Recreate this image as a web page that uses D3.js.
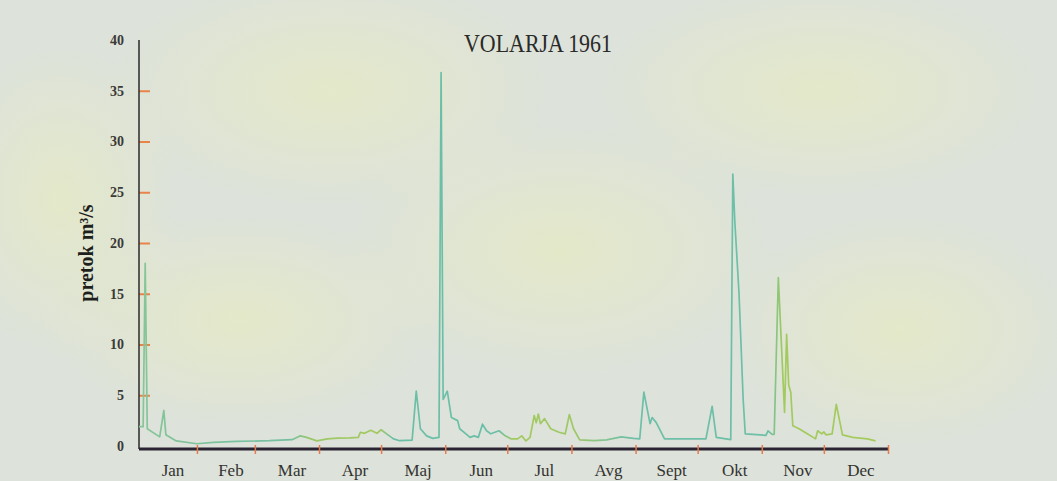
<!DOCTYPE html>
<html>
<head>
<meta charset="utf-8">
<script src="https://cdn.jsdelivr.net/npm/d3@7"></script>
<style>
  body { margin: 0; background: #dfe3dc; }
  svg { display: block; }
</style>
</head>
<body>
<div id="chart"></div>
<script>
// daily discharge, Volarja 1961 -- day of year (1 = 1 Jan) and flow in m3/s
const days = [4, 6, 7, 8, 14, 16, 17, 22, 32, 40, 51, 67, 78, 82, 85, 90, 95, 100, 106, 110, 111, 113, 116, 119, 121, 124, 127, 130, 136, 138, 140, 143, 146, 149, 150, 151, 153, 155, 158, 159, 162, 164, 166, 168, 170, 172, 174, 178, 181, 184, 187, 189, 191, 193, 195, 196, 197, 198, 200, 203, 207, 210, 212, 214, 217, 224, 230, 237, 243, 246, 248, 251, 252, 254, 258, 278, 281, 283, 290, 291, 292, 294, 296, 297, 307, 308, 310, 311, 313, 316, 317, 318, 319, 320, 323, 327, 331, 332, 334, 335, 336, 339, 341, 344, 349, 356, 360];
const flow = [1.9, 1.9, 18, 1.7, 0.9, 3.5, 1.1, 0.5, 0.22, 0.35, 0.45, 0.52, 0.62, 1.0, 0.85, 0.5, 0.7, 0.78, 0.8, 0.85, 1.35, 1.25, 1.55, 1.25, 1.6, 1.15, 0.7, 0.52, 0.58, 5.4, 1.7, 1.0, 0.75, 0.85, 36.8, 4.6, 5.4, 2.8, 2.5, 1.7, 1.2, 0.85, 1.0, 0.85, 2.15, 1.5, 1.2, 1.5, 1.0, 0.7, 0.7, 1.0, 0.5, 0.85, 3.0, 2.3, 3.15, 2.2, 2.7, 1.7, 1.35, 1.2, 3.1, 1.7, 0.6, 0.52, 0.6, 0.9, 0.75, 0.7, 5.3, 2.2, 2.8, 2.3, 0.7, 0.7, 3.9, 0.85, 0.62, 26.8, 22, 15, 4.6, 1.2, 1.05, 1.5, 1.15, 1.15, 16.6, 3.3, 11.0, 6.0, 5.3, 2.0, 1.7, 1.2, 0.7, 1.5, 1.2, 1.4, 1.1, 1.2, 4.1, 1.1, 0.85, 0.7, 0.5];

const months = ['Jan', 'Feb', 'Mar', 'Apr', 'Maj', 'Jun', 'Jul', 'Avg', 'Sept', 'Okt', 'Nov', 'Dec'];
const yTicks = [0, 5, 10, 15, 20, 25, 30, 35, 40];
const title = 'VOLARJA 1961';
const yTitle = 'pretok m³/s';

const width = 1057;
const height = 481;
const serif = '"Liberation Serif", "Times New Roman", serif';

const data = days.map((d, i) => ({ date: new Date(1961, 0, d), v: flow[i] }));

const x = d3.scaleTime()
  .domain([new Date(1961, 0, 4), new Date(1962, 0, 1)])
  .range([139, 888]);

const y = d3.scaleLinear()
  .domain([0, 40])
  .range([446, 40]);

const axisY = 449; // the x axis sits a touch under the zero line

const svg = d3.select('#chart')
  .append('svg')
  .attr('width', width)
  .attr('height', height);

// scanned paper background with yellowish blotches
const defs = svg.append('defs');
svg.append('rect').attr('width', width).attr('height', height).attr('fill', '#dde2db');

const blobs = [[330, 90, 230, 120], [240, 320, 200, 110], [560, 250, 220, 130], [820, 90, 230, 110], [900, 330, 180, 120], [60, 200, 120, 160]];
const blobGrad = defs.append('radialGradient').attr('id', 'blob');
blobGrad.append('stop').attr('offset', 0).attr('stop-color', '#e6ebc4').attr('stop-opacity', 0.75);
blobGrad.append('stop').attr('offset', 1).attr('stop-color', '#e6ebc4').attr('stop-opacity', 0);
svg.append('g').selectAll('ellipse')
  .data(blobs)
  .join('ellipse')
  .attr('cx', d => d[0]).attr('cy', d => d[1])
  .attr('rx', d => d[2]).attr('ry', d => d[3])
  .attr('fill', 'url(#blob)');

// line colour drifts between teal and yellow-green along the year
const lineColours = [
  [0.00, '#86c597'], [0.20, '#74bfa2'], [0.23, '#9cc868'], [0.32, '#a3c95e'],
  [0.34, '#6cbfa7'], [0.48, '#6cbfa7'], [0.50, '#a2ca5f'], [0.58, '#9fc866'],
  [0.62, '#86c48e'], [0.66, '#6dbfa8'], [0.84, '#6dbfa8'], [0.86, '#a2ca5e'], [1.00, '#a6ca5e']
];
defs.append('linearGradient')
  .attr('id', 'flowGrad')
  .attr('gradientUnits', 'userSpaceOnUse')
  .attr('x1', x.range()[0]).attr('x2', x.range()[1])
  .attr('y1', 0).attr('y2', 0)
  .selectAll('stop')
  .data(lineColours)
  .join('stop')
  .attr('offset', d => d[0])
  .attr('stop-color', d => d[1]);

// y axis
const gy = svg.append('g')
  .attr('transform', `translate(${x.range()[0]},0)`)
  .call(d3.axisLeft(y).tickValues(yTicks).tickSizeInner(-11).tickSizeOuter(0).tickPadding(15));

gy.select('.domain').remove();
gy.selectAll('.tick line')
  .attr('stroke', '#e8834a')
  .attr('stroke-width', 2)
  .filter(d => d === 0 || d === 40)
  .remove();
gy.selectAll('.tick text')
  .attr('font-family', serif)
  .attr('font-size', 14)
  .attr('font-weight', 'bold')
  .attr('fill', '#3a3a36');

svg.append('line')
  .attr('x1', x.range()[0]).attr('x2', x.range()[0])
  .attr('y1', y(40)).attr('y2', axisY)
  .attr('stroke', '#2a2a2a')
  .attr('stroke-width', 1.5);

// x axis
const monthStarts = d3.timeMonth.range(new Date(1961, 1, 1), new Date(1962, 0, 2));

svg.append('line')
  .attr('x1', x.range()[0]).attr('x2', x.range()[1])
  .attr('y1', axisY).attr('y2', axisY)
  .attr('stroke', '#2a2433')
  .attr('stroke-width', 3);

const gx = svg.append('g')
  .attr('transform', `translate(0,${axisY})`)
  .call(d3.axisBottom(x).tickValues(monthStarts).tickSize(5).tickFormat(''));

gx.select('.domain').remove();
gx.selectAll('.tick line')
  .attr('y1', -4)
  .attr('stroke', '#e8794a')
  .attr('stroke-width', 1.5);

const bounds = [x.domain()[0], ...monthStarts];
svg.append('g')
  .selectAll('text')
  .data(months)
  .join('text')
  .attr('x', (d, i) => (x(bounds[i]) + x(bounds[i + 1])) / 2 + 5)
  .attr('y', 476)
  .attr('text-anchor', 'middle')
  .attr('font-family', serif)
  .attr('font-size', 17)
  .attr('fill', '#33332f')
  .text(d => d);

// the hydrograph
const line = d3.line()
  .x(d => x(d.date))
  .y(d => y(d.v));

svg.append('path')
  .datum(data)
  .attr('d', line)
  .attr('fill', 'none')
  .attr('stroke', 'url(#flowGrad)')
  .attr('stroke-width', 1.7)
  .attr('stroke-linejoin', 'round');

// titles
svg.append('text')
  .attr('x', 538)
  .attr('y', 52)
  .attr('text-anchor', 'middle')
  .attr('font-family', serif)
  .attr('font-size', 26)
  .attr('textLength', 148)
  .attr('lengthAdjust', 'spacingAndGlyphs')
  .attr('fill', '#2a2a28')
  .text(title);

svg.append('text')
  .attr('transform', 'translate(93,253) rotate(-90)')
  .attr('text-anchor', 'middle')
  .attr('font-family', serif)
  .attr('font-size', 20)
  .attr('font-weight', 'bold')
  .attr('fill', '#1e1e1c')
  .text(yTitle);
</script>
</body>
</html>
